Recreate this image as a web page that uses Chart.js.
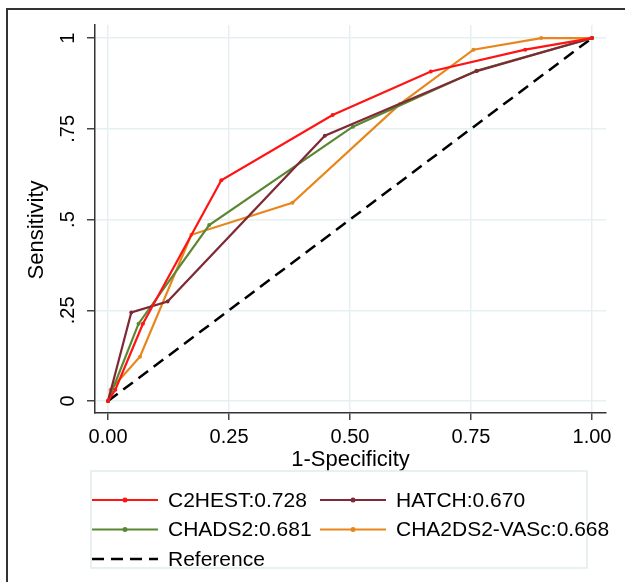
<!DOCTYPE html>
<html>
<head>
<meta charset="utf-8">
<script src="https://cdn.jsdelivr.net/npm/chart.js@4"></script>
<style>
  html, body { margin: 0; padding: 0; background: #fff; }
  canvas { display: block; }
</style>
</head>
<body>
<canvas id="roc" width="625" height="582"></canvas>
<script>
// ROC curves, values
const c2hestFpr = [0, 0.015, 0.072, 0.234, 0.464, 0.667, 0.862, 1];
const c2hestTpr = [0, 0.031, 0.213, 0.608, 0.788, 0.908, 0.968, 1];
const hatchFpr = [0, 0.048, 0.123, 0.448, 0.762, 1];
const hatchTpr = [0, 0.244, 0.274, 0.731, 0.909, 1];
const chads2Fpr = [0, 0.063, 0.209, 0.506, 0.761, 1];
const chads2Tpr = [0, 0.213, 0.485, 0.756, 0.91, 1];
const vascFpr = [0, 0.005, 0.066, 0.172, 0.381, 0.603, 0.755, 0.895, 1];
const vascTpr = [0, 0.031, 0.122, 0.458, 0.546, 0.818, 0.968, 1, 1];
const refFpr = [0, 1];
const refTpr = [0, 1];

const seriesLabels = ['C2HEST:0.728', 'HATCH:0.670', 'CHADS2:0.681', 'CHA2DS2-VASc:0.668', 'Reference'];
const xTicks = [0, 0.25, 0.5, 0.75, 1];
const xTickLabels = ['0.00', '0.25', '0.50', '0.75', '1.00'];
const yTicks = [0, 0.25, 0.5, 0.75, 1];
const yTickLabels = ['0', '.25', '.5', '.75', '1'];

const FONT = '"Liberation Sans", Arial, sans-serif';
Chart.defaults.font.family = FONT;
Chart.defaults.color = '#000';

function pts(xs, ys) {
  return xs.map((x, i) => ({ x: x, y: ys[i] }));
}

function curve(label, xs, ys, color) {
  return {
    label: label,
    data: pts(xs, ys),
    showLine: true,
    borderColor: color,
    backgroundColor: color,
    borderWidth: 2.2,
    pointRadius: 2,
    pointBorderWidth: 0,
    pointHoverRadius: 2
  };
}

const datasets = [
  curve(seriesLabels[0], c2hestFpr, c2hestTpr, '#ff1414'),
  curve(seriesLabels[1], hatchFpr, hatchTpr, '#7e2a36'),
  curve(seriesLabels[2], chads2Fpr, chads2Tpr, '#5a8832'),
  curve(seriesLabels[3], vascFpr, vascTpr, '#e8861c'),
  {
    label: seriesLabels[4],
    data: pts(refFpr, refTpr),
    showLine: true,
    borderColor: '#000',
    borderWidth: 2.5,
    borderDash: [12, 7],
    pointRadius: 0
  }
];

// frame, y title and the boxed legend
const decor = {
  id: 'decor',
  beforeDraw(chart) {
    const ctx = chart.ctx;
    ctx.save();
    ctx.fillStyle = '#fff';
    ctx.fillRect(0, 0, chart.width, chart.height);
    ctx.strokeStyle = '#333';
    ctx.lineWidth = 2;
    ctx.beginPath();
    ctx.moveTo(7, chart.height);
    ctx.lineTo(7, 9);
    ctx.lineTo(chart.width, 9);
    ctx.stroke();
    ctx.restore();
  },
  afterDraw(chart) {
    const ctx = chart.ctx;
    ctx.save();
    // y axis title
    ctx.translate(37, 230);
    ctx.rotate(-Math.PI / 2);
    ctx.font = '22px ' + FONT;
    ctx.fillStyle = '#000';
    ctx.textAlign = 'center';
    ctx.textBaseline = 'middle';
    ctx.fillText('Sensitivity', 0, 0);
    ctx.restore();

    // legend
    ctx.save();
    ctx.strokeStyle = '#e1ebee';
    ctx.lineWidth = 1.5;
    ctx.strokeRect(91, 471, 496, 97);
    const colX = [92, 320];
    const rowY = [500, 529.5, 559];
    ctx.font = '21px ' + FONT;
    ctx.textBaseline = 'middle';
    ctx.textAlign = 'left';
    chart.data.datasets.forEach((ds, i) => {
      const x = colX[i % 2];
      const y = rowY[Math.floor(i / 2)];
      ctx.strokeStyle = ds.borderColor;
      ctx.lineWidth = ds.borderWidth;
      ctx.setLineDash(ds.borderDash || []);
      ctx.beginPath();
      ctx.moveTo(x, y);
      ctx.lineTo(x + 66, y);
      ctx.stroke();
      ctx.setLineDash([]);
      if (ds.pointRadius) {
        ctx.fillStyle = ds.borderColor;
        ctx.beginPath();
        ctx.arc(x + 33, y, 2.5, 0, Math.PI * 2);
        ctx.fill();
      }
      ctx.fillStyle = '#000';
      ctx.fillText(ds.label, x + 76, y + 1);
    });
    ctx.restore();
  }
};

new Chart(document.getElementById('roc'), {
  type: 'scatter',
  data: { datasets: datasets },
  plugins: [decor],
  options: {
    responsive: false,
    animation: false,
    devicePixelRatio: 1,
    layout: { padding: { left: 0, top: 25, right: 19, bottom: 0 } },
    plugins: {
      legend: { display: false },
      tooltip: { enabled: false }
    },
    scales: {
      x: {
        type: 'linear',
        min: -0.027,
        max: 1.029,
        afterBuildTicks(scale) {
          scale.ticks = xTicks.map(v => ({ value: v }));
        },
        afterFit(scale) {
          scale.height = 169;
        },
        ticks: {
          padding: 5,
          font: { size: 20 },
          maxRotation: 0,
          callback: (v) => xTickLabels[xTicks.indexOf(v)]
        },
        grid: {
          color: '#e6eff1',
          lineWidth: 1.5,
          tickColor: '#444',
          tickLength: 7,
          tickWidth: 1.5
        },
        border: { color: '#333', width: 1.5 },
        title: {
          display: true,
          text: '1-Specificity',
          font: { size: 22 },
          padding: { top: 0, bottom: 109 }
        }
      },
      y: {
        type: 'linear',
        min: -0.033,
        max: 1.036,
        afterBuildTicks(scale) {
          scale.ticks = yTicks.map(v => ({ value: v }));
        },
        afterFit(scale) {
          scale.width = 95;
        },
        ticks: {
          padding: 5,
          font: { size: 20 },
          minRotation: 90,
          maxRotation: 90,
          crossAlign: 'center',
          callback: (v) => yTickLabels[yTicks.indexOf(v)]
        },
        grid: {
          color: '#e6eff1',
          lineWidth: 1.5,
          tickColor: '#444',
          tickLength: 8,
          tickWidth: 1.5
        },
        border: { color: '#333', width: 1.5 }
      }
    }
  }
});
</script>
</body>
</html>
